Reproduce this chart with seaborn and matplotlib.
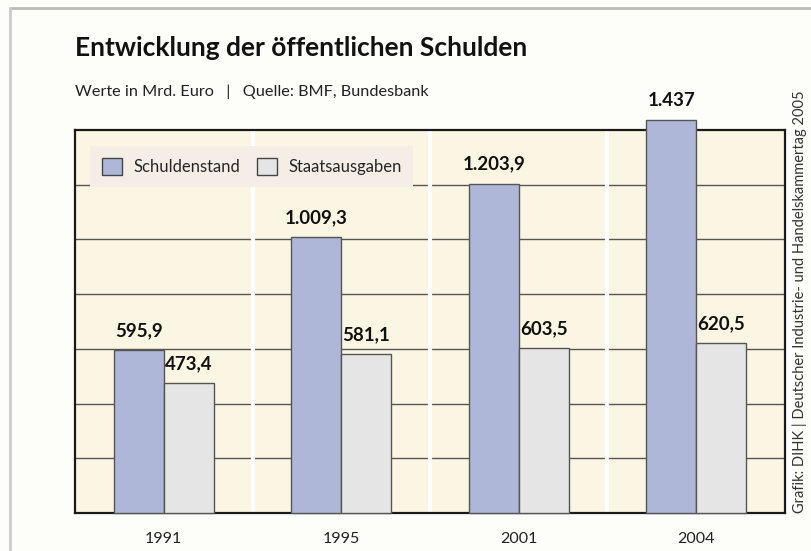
import matplotlib.pyplot as plt
import pandas as pd
import seaborn as sns
from matplotlib.lines import Line2D
from matplotlib.patches import Patch

years = ["1991", "1995", "2001", "2004"]
schuldenstand = [595.9, 1009.3, 1203.9, 1437.0]
staatsausgaben = [473.4, 581.1, 603.5, 620.5]
schulden_labels = ["595,9", "1.009,3", "1.203,9", "1.437"]
ausgaben_labels = ["473,4", "581,1", "603,5", "620,5"]
series = ["Schuldenstand", "Staatsausgaben"]

df = pd.DataFrame({
    "Jahr": years * 2,
    "Wert": schuldenstand + staatsausgaben,
    "Reihe": [series[0]] * len(years) + [series[1]] * len(years),
})

sns.set_theme(style="white")
plt.rcParams["font.family"] = ["Lato", "DejaVu Sans"]

colors = {"Schuldenstand": "#aeb7d8", "Staatsausgaben": "#e5e5e5"}

fig = plt.figure(figsize=(8.12, 5.51), dpi=100)
fig.patch.set_facecolor("#fdfdfa")
ax = fig.add_axes([0.0924, 0.069, 0.8743, 0.695])
ax.set_facecolor("#fbf5e3")

sns.barplot(data=df, x="Jahr", y="Wert", hue="Reihe", palette=colors,
            width=0.565, edgecolor="#555555", linewidth=1, saturation=1,
            legend=False, ax=ax, zorder=3)

ax.set_ylim(0, 1400)
ax.set_xlim(-0.5, 3.5)

# horizontal grid, white separators between the years
for yv in range(200, 1400, 200):
    ax.axhline(yv, color="#555555", lw=1, zorder=1)
for xv in [0.5, 1.5, 2.5]:
    ax.axvline(xv, color="white", lw=3, zorder=2)

# the 2004 bar goes past the top of the frame
for bar in ax.patches:
    bar.set_clip_on(False)

for container, labels in zip(ax.containers, [schulden_labels, ausgaben_labels]):
    texts = ax.bar_label(container, labels=labels, padding=8, fontsize=13.5,
                         fontweight="bold", color="#111111")
    for t in texts:
        t.set_annotation_clip(False)

for side in ax.spines.values():
    side.set_color("#1a1a1a")
    side.set_linewidth(1.6)
    side.set_visible(True)

ax.set_xlabel("")
ax.set_ylabel("")
ax.set_yticks([])
ax.tick_params(axis="x", length=0, pad=14, labelsize=11.5, labelcolor="#222222")

handles = [Patch(facecolor=colors[s], edgecolor="#444444", lw=1) for s in series]
leg = ax.legend(handles, series, loc="upper left", bbox_to_anchor=(0.021, 0.958),
                ncol=2, frameon=True, fancybox=False, fontsize=12,
                handlelength=1.2, handleheight=1.2, columnspacing=1.0,
                borderaxespad=0, borderpad=0.7, handletextpad=0.7)
leg.get_frame().set_facecolor("#f5eee7")
leg.get_frame().set_edgecolor("none")
leg.get_frame().set_alpha(1)
leg.set_zorder(5)

fig.text(0.0924, 0.912, "Entwicklung der öffentlichen Schulden", fontsize=19,
         fontweight="bold", color="#111111", va="center")
fig.text(0.0924, 0.833, "Werte in Mrd. Euro   |   Quelle: BMF, Bundesbank",
         fontsize=11.7, color="#222222", va="center")
fig.text(0.985, 0.069, "Grafik: DIHK | Deutscher Industrie- und Handelskammertag 2005",
         fontsize=10.5, color="#333333", rotation=90, ha="center", va="bottom")

# thin grey frame on top and left
fig.add_artist(Line2D([0.012, 1], [0.985, 0.985], color="#bbbbbb", lw=2))
fig.add_artist(Line2D([0.012, 0.012], [0, 0.985], color="#cccccc", lw=2))

fig.savefig("out.png", dpi=100, facecolor=fig.get_facecolor())
